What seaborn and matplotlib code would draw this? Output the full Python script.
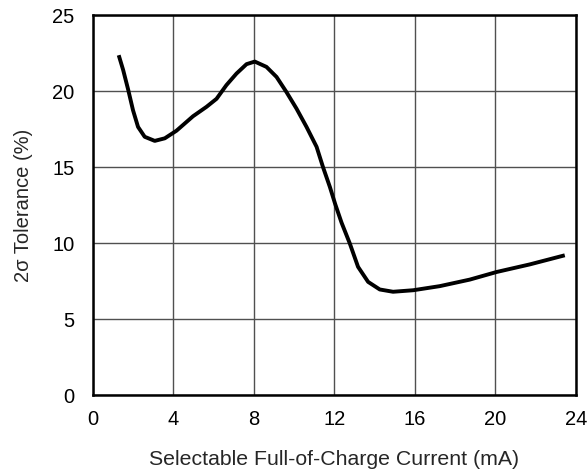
import numpy as np
import pandas as pd
import matplotlib
matplotlib.use('Agg')
import matplotlib.pyplot as plt
import seaborn as sb

# values
current_ma = [1.29, 1.51, 1.76, 2.0, 2.25, 2.58, 3.08, 3.58, 4.16, 4.98, 5.65,
              6.15, 6.64, 7.14, 7.64, 8.05, 8.63, 9.13, 9.62, 10.12, 10.62,
              11.12, 11.44, 11.78, 12.05, 12.36, 12.77, 13.18, 13.68, 14.26,
              14.92, 15.92, 17.24, 18.73, 20.06, 21.71, 23.45]
tolerance = [22.37, 21.4, 20.1, 18.75, 17.65, 17.0, 16.73, 16.9, 17.4, 18.35, 18.97,
             19.5, 20.4, 21.16, 21.78, 21.95, 21.6, 20.94, 19.95, 18.86, 17.65,
             16.34, 15.0, 13.7, 12.55, 11.35, 9.98, 8.44, 7.45, 6.95,
             6.8, 6.9, 7.17, 7.6, 8.1, 8.6, 9.2]
x_ticks = [0, 4, 8, 12, 16, 20, 24]
y_ticks = [0, 5, 10, 15, 20, 25]

df = pd.DataFrame({'current': current_ma, 'tol': tolerance})

sb.set_style('white')
plt.rcParams['font.family'] = ['Liberation Sans', 'DejaVu Sans']

fig = plt.figure(figsize=(5.87, 4.76), dpi=100)
ax = fig.add_axes([0.158, 0.170, 0.823, 0.798])

sb.lineplot(x='current', y='tol', data=df, ax=ax, color='black', linewidth=2.8,
            sort=False, solid_joinstyle='round', solid_capstyle='butt')

ax.set_xlim(0, 24)
ax.set_ylim(0, 25)
ax.set_xticks(x_ticks)
ax.set_yticks(y_ticks)
ax.grid(True, color='#505050', linewidth=1)
ax.set_axisbelow(True)
for s in ax.spines.values():
    s.set_color('black')
    s.set_linewidth(1.8)
ax.tick_params(axis='x', length=0, labelsize=14.5, pad=11, colors='black')
ax.tick_params(axis='y', length=0, labelsize=14.5, pad=13, colors='black')
ax.set_xlabel('Selectable Full-of-Charge Current (mA)', fontsize=15.3, labelpad=15)
ax.set_ylabel('2σ Tolerance (%)', fontsize=14.5, labelpad=14)

fig.savefig('out.png', dpi=100)
